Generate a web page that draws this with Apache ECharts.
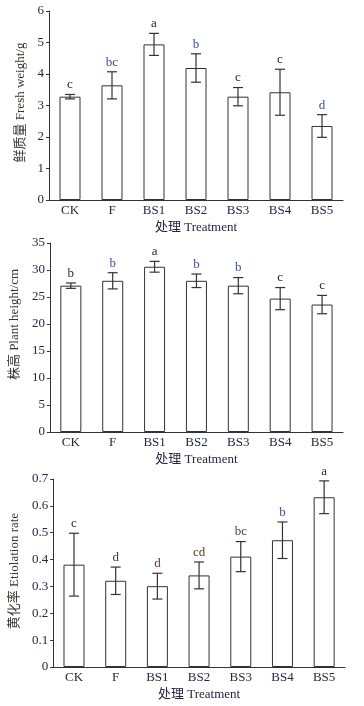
<!DOCTYPE html>
<html>
<head>
<meta charset="utf-8">
<script src="https://cdn.jsdelivr.net/npm/echarts@6/dist/echarts.min.js"></script>
<style>
html,body{margin:0;padding:0;background:#fff;}
#c{width:364px;height:706px;}
</style>
</head>
<body>
<div id="c"></div>
<script>
// ---- data ----
const categories = ['CK', 'F', 'BS1', 'BS2', 'BS3', 'BS4', 'BS5'];

const freshWeight = [3.28, 3.64, 4.94, 4.19, 3.28, 3.42, 2.35];
const freshWeightErr = [0.07, 0.43, 0.35, 0.45, 0.29, 0.73, 0.36];
const freshWeightSig = ['c', 'bc', 'a', 'b', 'c', 'c', 'd'];

const plantHeight = [27.1, 28.0, 30.6, 28.0, 27.1, 24.7, 23.6];
const plantHeightErr = [0.5, 1.5, 1.0, 1.25, 1.5, 2.05, 1.7];
const plantHeightSig = ['b', 'b', 'a', 'b', 'b', 'c', 'c'];

const etiolation = [0.381, 0.321, 0.301, 0.341, 0.411, 0.472, 0.632];
const etiolationErr = [0.117, 0.051, 0.048, 0.05, 0.056, 0.068, 0.061];
const etiolationSig = ['c', 'd', 'd', 'cd', 'bc', 'b', 'a'];

// ---- styles ----
const FONT = '"Liberation Serif", "Noto Sans CJK SC", serif';
const TXT = '#23283f';
const DARK = '#23283f', BLUE = '#3550a8', BROWN = '#5a3a28';
const sigColors1 = [DARK, BLUE, DARK, BLUE, DARK, DARK, BLUE];
const sigColors2 = [DARK, BLUE, DARK, BLUE, BLUE, DARK, DARK];
const sigColors3 = [DARK, BROWN, BROWN, BROWN, BROWN, BLUE, DARK];

const grids = [
  {left: 49, top: 11, width: 294, height: 189},
  {left: 49, top: 243, width: 294, height: 189},
  {left: 51, top: 479, width: 294, height: 188}
];

function xAxisCfg(gi) {
  return {
    type: 'category', gridIndex: gi, data: categories,
    axisLine: {lineStyle: {color: '#333', width: 1}},
    axisTick: {show: false},
    axisLabel: {color: TXT, fontFamily: FONT, fontSize: 13, margin: 4},
    name: '处理 Treatment', nameLocation: 'middle', nameGap: 21,
    nameTextStyle: {color: TXT, fontFamily: FONT, fontSize: 13}
  };
}
function yAxisCfg(gi, min, max, interval, name, gap, pad, fmt) {
  return {
    type: 'value', gridIndex: gi, min: min, max: max, interval: interval,
    axisLine: {show: true, lineStyle: {color: '#333', width: 1}},
    axisTick: {show: true, length: 3, lineStyle: {color: '#333'}},
    splitLine: {show: false},
    axisLabel: {color: TXT, fontFamily: FONT, fontSize: 13, margin: 5, formatter: fmt},
    name: name, nameLocation: 'middle', nameGap: gap, nameRotate: 90,
    nameTextStyle: {color: '#3a3330', fontFamily: FONT, fontSize: 13, padding: pad}
  };
}
function barSeries(gi, vals) {
  return {
    type: 'bar', xAxisIndex: gi, yAxisIndex: gi, data: vals, barWidth: 21,
    itemStyle: {color: '#fff', borderColor: '#333', borderWidth: 1},
    silent: true, animation: false
  };
}
function errSeries(gi, vals, errs, sig, colors) {
  return {
    type: 'custom', xAxisIndex: gi, yAxisIndex: gi, animation: false, silent: true,
    data: vals.map((v, i) => [i, v, errs[i]]),
    z: 5,
    renderItem: function (params, api) {
      const i = api.value(0), v = api.value(1), e = api.value(2);
      const hi = api.coord([i, v + e]);
      const lo = api.coord([i, v - e]);
      const cap = 5;
      const st = {stroke: '#333', lineWidth: 1.2};
      return {
        type: 'group',
        children: [
          {type: 'line', shape: {x1: hi[0], y1: hi[1], x2: lo[0], y2: lo[1]}, style: st},
          {type: 'line', shape: {x1: hi[0] - cap, y1: hi[1], x2: hi[0] + cap, y2: hi[1]}, style: st},
          {type: 'line', shape: {x1: lo[0] - cap, y1: lo[1], x2: lo[0] + cap, y2: lo[1]}, style: st},
          {type: 'text', x: hi[0], y: hi[1] - 3,
           style: {text: sig[params.dataIndex], fill: colors[params.dataIndex],
                   font: '13px ' + FONT, textAlign: 'center', textVerticalAlign: 'bottom'}}
        ]
      };
    }
  };
}

const chart = echarts.init(document.getElementById('c'), null, {renderer: 'canvas'});
chart.setOption({
  backgroundColor: '#fff',
  animation: false,
  grid: grids,
  xAxis: [xAxisCfg(0), xAxisCfg(1), xAxisCfg(2)],
  yAxis: [
    yAxisCfg(0, 0, 6, 1, '鲜质量 Fresh weight/g', 21, [0, 0, 0, 6]),
    yAxisCfg(1, 0, 35, 5, '株高 Plant height/cm', 21, [0, 0, 0, 26]),
    yAxisCfg(2, 0, 0.7, 0.1, '黄化率 Etiolation rate', 29, [0, 0, 0, 4], v => v === 0 ? '0' : v.toFixed(1))
  ],
  series: [
    barSeries(0, freshWeight), errSeries(0, freshWeight, freshWeightErr, freshWeightSig, sigColors1),
    barSeries(1, plantHeight), errSeries(1, plantHeight, plantHeightErr, plantHeightSig, sigColors2),
    barSeries(2, etiolation), errSeries(2, etiolation, etiolationErr, etiolationSig, sigColors3)
  ]
});
</script>
</body>
</html>
